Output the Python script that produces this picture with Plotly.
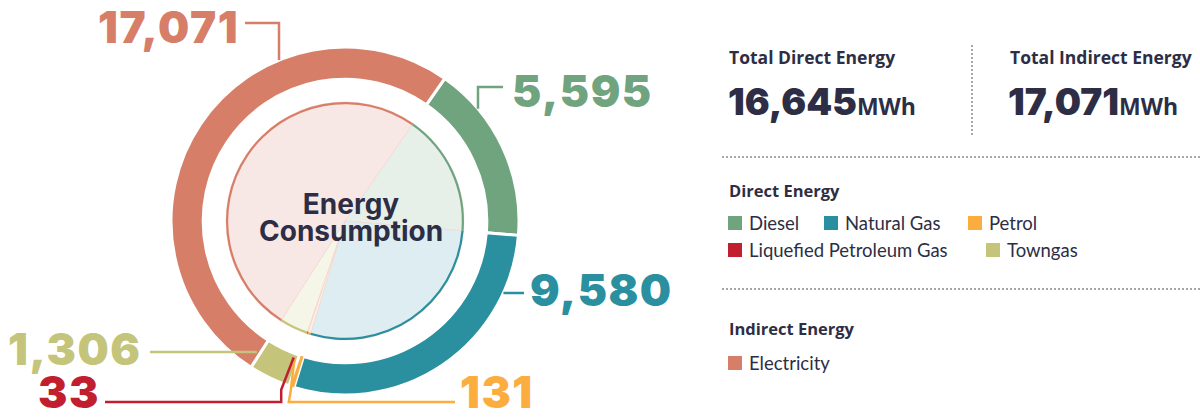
import math
import plotly.graph_objects as go

# ---- data ----
sources = ["Diesel", "Natural Gas", "Petrol", "Liquefied Petroleum Gas", "Towngas", "Electricity"]
values = [5595, 9580, 131, 33, 1306, 17071]
colors = ["#6fa47f", "#2a8f9e", "#fbad3f", "#c11f30", "#c4c47a", "#d77e68"]
pale_colors = ["#e6f0e9", "#deedf1", "#fdf3e3", "#f7e4e5", "#f5f5e8", "#f8e8e5"]
direct_sources = sources[:5]
indirect_sources = sources[5:]
direct_total = sum(values[:5])
indirect_total = sum(values[5:])

# ---- canvas geometry (pixels) ----
W, H = 1200, 419
CX, CY = 345, 221          # donut centre
R_OUT = 174                # outer ring radius
HOLE = 0.815               # ring hole ratio
R_IN = R_OUT * HOLE
R_PIE = 119                # inner pale pie radius
START = 35                 # first slice starts 35 deg clockwise from 12 o'clock

TEXT = "#2d2e45"
NUM_FONT = "Inter"


def px(x):
    return x / W


def py(y):
    return 1 - y / H


def domain(r):
    return dict(x=[px(CX - r), px(CX + r)], y=[py(CY + r), py(CY - r)])


total = sum(values)
bounds = []
acc = 0
for v in values:
    a0 = START + acc / total * 360
    acc += v
    a1 = START + acc / total * 360
    bounds.append((a0, a1))


def ring_xy(angle, r):
    t = math.radians(angle)
    return CX + r * math.sin(t), CY - r * math.cos(t)


fig = go.Figure()

# outer ring
fig.add_trace(go.Pie(
    values=values, labels=sources, sort=False, direction="clockwise", rotation=START,
    hole=HOLE, domain=domain(R_OUT), textinfo="none", showlegend=False,
    marker=dict(colors=colors, line=dict(color="white", width=[3, 3, 0, 0, 3, 3])),
))
# inner pale pie
fig.add_trace(go.Pie(
    values=values, labels=sources, sort=False, direction="clockwise", rotation=START,
    domain=domain(R_PIE), textinfo="none", showlegend=False,
    marker=dict(colors=pale_colors, line=dict(color="#f3d3cc", width=0.6)),
))
# thin coloured outline around the inner pie
fig.add_trace(go.Pie(
    values=values, labels=sources, sort=False, direction="clockwise", rotation=START,
    hole=1 - 2.2 / R_PIE, domain=domain(R_PIE), textinfo="none", showlegend=False,
    marker=dict(colors=colors, line=dict(width=0)), hoverinfo="skip",
))

shapes = []
annotations = []


def seg(x0, y0, x1, y1, color, width=2.5, dash=None):
    line = dict(color=color, width=width)
    if dash:
        line["dash"] = dash
    shapes.append(dict(type="line", xref="paper", yref="paper",
                       x0=px(x0), y0=py(y0), x1=px(x1), y1=py(y1), line=line))


def path(points, color, width=2.5):
    d = "M " + " L ".join(f"{px(x):.5f},{py(y):.5f}" for x, y in points)
    shapes.append(dict(type="path", xref="paper", yref="paper", path=d,
                       line=dict(color=color, width=width)))


def label(text, x, y, color, anchor, size=44):
    annotations.append(dict(
        text=f"<span style='letter-spacing:1.5px'>{text}</span>",
        x=px(x), y=py(y), xref="paper", yref="paper",
        xanchor=anchor, yanchor="middle", showarrow=False,
        font=dict(family=NUM_FONT, size=size, color=color, weight=900),
    ))


fmt = "{:,}".format
i_d, i_g, i_p, i_l, i_t, i_e = range(6)

# Electricity: elbow from label down onto the outer edge
ex = 279
ey = CY - math.sqrt(R_OUT ** 2 - (ex - CX) ** 2)
path([(245, 23), (ex, 23), (ex, ey)], colors[i_e])
label(fmt(values[i_e]), 241, 27, colors[i_e], "right")

# Diesel
dx = 478
dy = CY - math.sqrt(R_OUT ** 2 - (dx - CX) ** 2)
path([(503, 87), (dx, 87), (dx, dy)], colors[i_d])
label(fmt(values[i_d]), 510, 91, colors[i_d], "left")

# Natural gas
gy = 293
gx = CX + math.sqrt(R_OUT ** 2 - (gy - CY) ** 2)
path([(gx, gy), (524, gy)], colors[i_g])
label(fmt(values[i_g]), 528, 290, colors[i_g], "left")

# Towngas
ty = 352
tx = CX - math.sqrt(((R_OUT + R_IN) / 2) ** 2 - (ty - CY) ** 2)
path([(150, ty), (tx, ty)], colors[i_t])
label(fmt(values[i_t]), 143, 349, colors[i_t], "right")

# Petrol and LPG: short spokes out of the narrow gap, then down and across
base_y = 402
a_p = sum(bounds[i_p]) / 2
a_l = sum(bounds[i_l]) / 2
p_in = ring_xy(a_p + 2.5, R_IN + 4)
p_out = ring_xy(a_p, R_OUT + 4)
path([p_in, p_out, (p_out[0] - 2, base_y), (455, base_y)], colors[i_p])
label(fmt(values[i_p]), 458, 392, colors[i_p], "left")

l_in = ring_xy(a_l + 2.0, R_IN + 4)
l_out = ring_xy(a_l, R_OUT + 4)
l_x = l_out[0] - 7
path([l_in, (l_x, l_out[1]), (l_x, base_y), (105, base_y)], colors[i_l])
label(fmt(values[i_l]), 102, 392, colors[i_l], "right")

# centre title (base size sets the tight line pitch, the span sets the glyph size)
annotations.append(dict(
    text="<span style='font-size:28px'>Energy</span><br><span style='font-size:28px'>Consumption</span>",
    x=px(CX + 6), y=py(217), xref="paper", yref="paper",
    xanchor="center", yanchor="middle", showarrow=False, align="center",
    font=dict(family="Inter", size=20.8, color=TEXT, weight=700),
))

# ---- right panel ----
HEAD = "Open Sans"


def head(text, x, y, size=17.5):
    annotations.append(dict(
        text=text, x=px(x), y=py(y), xref="paper", yref="paper",
        xanchor="left", yanchor="middle", showarrow=False,
        font=dict(family=HEAD, size=size, color=TEXT, weight=700),
    ))


def total_text(value, x, y):
    annotations.append(dict(
        text=f"{fmt(value)}<span style='font-family:Open Sans;font-size:23px;font-weight:700'>MWh</span>",
        x=px(x), y=py(y), xref="paper", yref="paper",
        xanchor="left", yanchor="middle", showarrow=False,
        font=dict(family=NUM_FONT, size=37, color=TEXT, weight=900),
    ))


head("Total Direct Energy", 727, 57)
total_text(direct_total, 726, 102)
head("Total Indirect Energy", 1008, 57)
total_text(indirect_total, 1006, 102)

DOT = "#a6a6a6"
seg(972, 45, 972, 137, DOT, width=2, dash="2px,2px")
seg(722, 157, 1200, 157, DOT, width=2, dash="2px,2px")
seg(722, 289, 1200, 289, DOT, width=2, dash="2px,2px")

head("Direct Energy", 727, 190, size=16.5)
head("Indirect Energy", 727, 328, size=16.5)


def legend_item(name, x, y):
    c = colors[sources.index(name)]
    shapes.append(dict(type="rect", xref="paper", yref="paper",
                       x0=px(x), x1=px(x + 14), y0=py(y + 7), y1=py(y - 7),
                       fillcolor=c, line=dict(width=0)))
    annotations.append(dict(
        text=name, x=px(x + 19), y=py(y), xref="paper", yref="paper",
        xanchor="left", yanchor="middle", showarrow=False,
        font=dict(family="Lato", size=18.5, color=TEXT),
    ))


legend_pos = {
    "Diesel": (728, 223),
    "Natural Gas": (824, 223),
    "Petrol": (968, 223),
    "Liquefied Petroleum Gas": (728, 250),
    "Towngas": (986, 250),
    "Electricity": (728, 363),
}
for name in direct_sources + indirect_sources:
    legend_item(name, *legend_pos[name])

fig.update_layout(
    width=W, height=H, margin=dict(l=0, r=0, t=0, b=0),
    paper_bgcolor="white", plot_bgcolor="white",
    shapes=shapes, annotations=annotations, showlegend=False,
)
fig.write_html("out.html")
